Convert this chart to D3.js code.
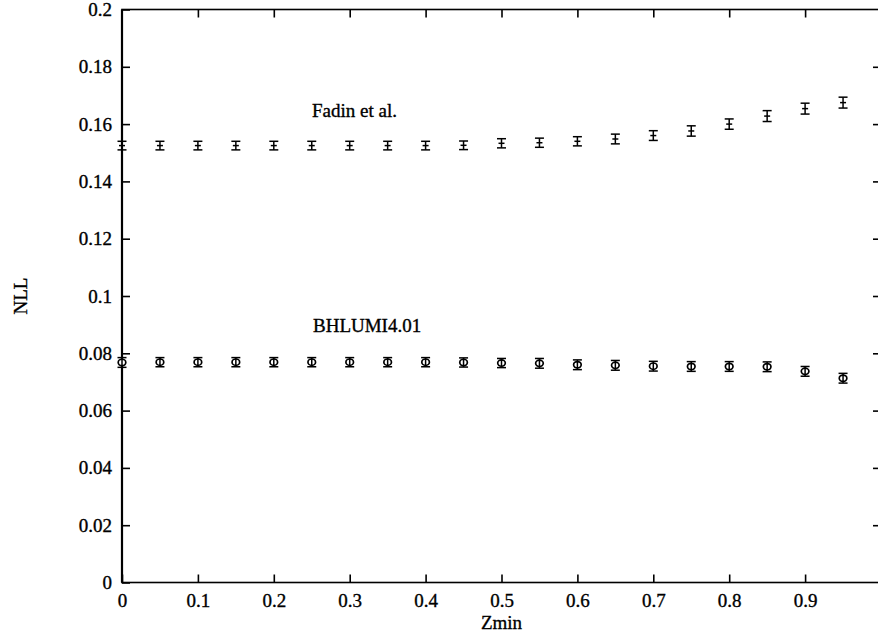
<!DOCTYPE html>
<html>
<head>
<meta charset="utf-8">
<script src="https://cdn.jsdelivr.net/npm/d3@7"></script>
<style>
  html, body { margin: 0; padding: 0; background: #fff; }
  svg { display: block; }
  svg text { font-family: "Liberation Serif", "Times New Roman", Times, serif; fill: #000; stroke: #000; stroke-width: 0.35px; }
</style>
</head>
<body>
<svg id="chart" width="878" height="632"></svg>
<script>
// Zmin scan points
const zmin = [0, 0.05, 0.1, 0.15, 0.2, 0.25, 0.3, 0.35, 0.4, 0.45,
              0.5, 0.55, 0.6, 0.65, 0.7, 0.75, 0.8, 0.85, 0.9, 0.95];

// Fadin et al. NLL result with uncertainty
const fadin = [0.1525, 0.1525, 0.1525, 0.1525, 0.1525, 0.1525, 0.1525, 0.1525, 0.1525, 0.1526,
               0.1533, 0.1535, 0.1540, 0.1548, 0.1560, 0.1576, 0.1600, 0.1628, 0.1654, 0.1675];
const fadinErr = [0.0015, 0.0015, 0.0015, 0.0015, 0.0015, 0.0015, 0.0015, 0.0015, 0.0015, 0.0015,
                  0.0016, 0.0016, 0.0016, 0.0017, 0.0017, 0.0018, 0.0018, 0.0019, 0.0019, 0.0019];

// BHLUMI4.01 NLL result with uncertainty
const bhlumi = [0.0768, 0.0769, 0.0769, 0.0769, 0.0769, 0.0769, 0.0769, 0.0769, 0.0769, 0.0768,
                0.0766, 0.0765, 0.0760, 0.0758, 0.0755, 0.0754, 0.0754, 0.0753, 0.0737, 0.0713];
const bhlumiErr = [0.0017, 0.0016, 0.0016, 0.0016, 0.0016, 0.0016, 0.0016, 0.0016, 0.0016, 0.0016,
                   0.0016, 0.0017, 0.0017, 0.0017, 0.0017, 0.0017, 0.0017, 0.0017, 0.0017, 0.0017];

// Axis ticks and labels
const xTicks = [0, 0.1, 0.2, 0.3, 0.4, 0.5, 0.6, 0.7, 0.8, 0.9];
const xTickLabels = ["0", "0.1", "0.2", "0.3", "0.4", "0.5", "0.6", "0.7", "0.8", "0.9"];
const yTicks = [0, 0.02, 0.04, 0.06, 0.08, 0.1, 0.12, 0.14, 0.16, 0.18, 0.2];
const yTickLabels = ["0", "0.02", "0.04", "0.06", "0.08", "0.1", "0.12", "0.14", "0.16", "0.18", "0.2"];

const svg = d3.select("#chart");
const x = d3.scaleLinear().domain([0, 1]).range([122, 881]);
const y = d3.scaleLinear().domain([0, 0.2]).range([582.5, 9.5]);

const serif = '"Liberation Serif", "Times New Roman", Times, serif';
const fontSize = 19;
const tickLen = 8;

// Frame
svg.append("rect")
  .attr("x", x(0)).attr("y", y(0.2))
  .attr("width", x(1) - x(0)).attr("height", y(0) - y(0.2))
  .attr("fill", "none").attr("stroke", "#000").attr("stroke-width", 1.6);
svg.append("line")
  .attr("x1", x(0)).attr("x2", x(0)).attr("y1", y(0.2)).attr("y2", y(0))
  .attr("stroke", "#000").attr("stroke-width", 2.2);

function styleAxis(g) {
  g.attr("font-family", null).attr("font-size", null);
  g.select(".domain").remove();
  g.selectAll(".tick line").attr("stroke", "#000").attr("stroke-width", 1.6);
  g.selectAll(".tick text")
    .style("font-family", serif)
    .style("font-size", fontSize + "px");
}

// Bottom axis (ticks point inward)
svg.append("g")
  .attr("transform", `translate(0,${y(0)})`)
  .call(d3.axisBottom(x).tickValues(xTicks).tickSizeInner(-tickLen).tickSizeOuter(0)
          .tickPadding(11).tickFormat((d, i) => xTickLabels[i]))
  .call(styleAxis);

// Top axis ticks only
svg.append("g")
  .attr("transform", `translate(0,${y(0.2)})`)
  .call(d3.axisTop(x).tickValues(xTicks.filter(v => v > 0)).tickSizeInner(-tickLen).tickSizeOuter(0)
          .tickFormat(""))
  .call(styleAxis);

// Left axis
svg.append("g")
  .attr("transform", `translate(${x(0)},0)`)
  .call(d3.axisLeft(y).tickValues(yTicks).tickSizeInner(-tickLen).tickSizeOuter(0)
          .tickPadding(10).tickFormat((d, i) => yTickLabels[i]))
  .call(styleAxis);

// Right axis ticks only
svg.append("g")
  .attr("transform", `translate(${x(1)},0)`)
  .call(d3.axisRight(y).tickValues(yTicks.filter(v => v > 0 && v < 0.2)).tickSizeInner(-tickLen).tickSizeOuter(0)
          .tickFormat(""))
  .call(styleAxis);

// Axis titles
svg.append("text")
  .attr("x", x(0.5)).attr("y", 629)
  .attr("text-anchor", "middle")
  .style("font-size", fontSize + "px")
  .text("Zmin");
svg.append("text")
  .attr("transform", `translate(27,${y(0.1)}) rotate(-90)`)
  .attr("text-anchor", "middle")
  .style("font-size", fontSize + "px")
  .text("NLL");

// Error bars
const capHalf = 4.5;
function errorBars(values, errs, cls) {
  const g = svg.append("g").attr("class", cls)
    .attr("stroke", "#000").attr("stroke-width", 1.5).attr("fill", "none");
  const pts = g.selectAll("g").data(zmin.map((z, i) => ({ z, v: values[i], e: errs[i] })))
    .join("g");
  pts.append("line")
    .attr("x1", d => x(d.z)).attr("x2", d => x(d.z))
    .attr("y1", d => y(d.v - d.e)).attr("y2", d => y(d.v + d.e));
  pts.append("line")
    .attr("x1", d => x(d.z) - capHalf).attr("x2", d => x(d.z) + capHalf)
    .attr("y1", d => y(d.v - d.e)).attr("y2", d => y(d.v - d.e));
  pts.append("line")
    .attr("x1", d => x(d.z) - capHalf).attr("x2", d => x(d.z) + capHalf)
    .attr("y1", d => y(d.v + d.e)).attr("y2", d => y(d.v + d.e));
  return pts;
}

const fPts = errorBars(fadin, fadinErr, "fadin");
fPts.append("line")
  .attr("x1", d => x(d.z) - 3).attr("x2", d => x(d.z) + 3)
  .attr("y1", d => y(d.v)).attr("y2", d => y(d.v));

const bPts = errorBars(bhlumi, bhlumiErr, "bhlumi");
bPts.append("ellipse")
  .attr("cx", d => x(d.z)).attr("cy", d => y(d.v))
  .attr("rx", 3.8).attr("ry", 3.2)
  .attr("fill", "#fff").attr("stroke-width", 1.7);
bPts.append("line")
  .attr("x1", d => x(d.z)).attr("x2", d => x(d.z))
  .attr("y1", d => y(d.v) - 3.5).attr("y2", d => y(d.v) + 3.5);

// Series labels
svg.append("text")
  .attr("x", 312).attr("y", 117)
  .style("font-size", fontSize + "px")
  .text("Fadin et al.");
svg.append("text")
  .attr("x", 313).attr("y", 332)
  .style("font-size", fontSize + "px")
  .text("BHLUMI4.01");
</script>
</body>
</html>
